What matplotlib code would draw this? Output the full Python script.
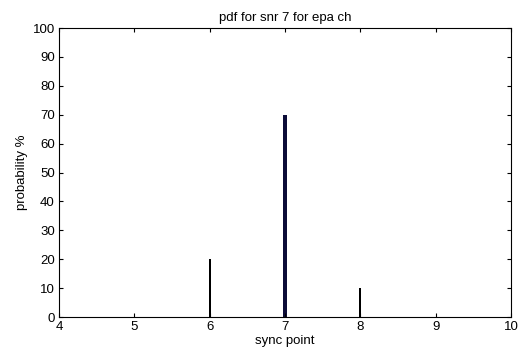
import matplotlib
matplotlib.use('Agg')
from matplotlib import pyplot as plt

# data
sync_points = [6, 7, 8]
probability = [20, 70, 10]
bar_colors = ['black', '#0c0c38', 'black']
bar_widths = [0.025, 0.042, 0.025]

x_ticks = [4, 5, 6, 7, 8, 9, 10]
y_ticks = [0, 10, 20, 30, 40, 50, 60, 70, 80, 90, 100]

plt.rcParams['font.family'] = ['Liberation Sans', 'DejaVu Sans']

fig = plt.figure(figsize=(5.19, 3.52), dpi=100)
ax = fig.add_axes([0.1137, 0.0994, 0.871, 0.821])

ax.bar(sync_points, probability, width=bar_widths, color=bar_colors, linewidth=0)

ax.set_xlim(4, 10)
ax.set_ylim(0, 100)
ax.set_xticks(x_ticks)
ax.set_yticks(y_ticks)
ax.tick_params(direction='in', top=True, right=True, labelsize=9.5, length=3, width=0.8, pad=3)
for s in ax.spines.values():
    s.set_linewidth(0.8)

ax.set_title('pdf for snr 7 for epa ch', fontsize=9.5, pad=5)
ax.set_xlabel('sync point', fontsize=9.5, labelpad=1)
ax.set_ylabel('probability %', fontsize=9.5, labelpad=3)

fig.savefig('out.png', dpi=100)
